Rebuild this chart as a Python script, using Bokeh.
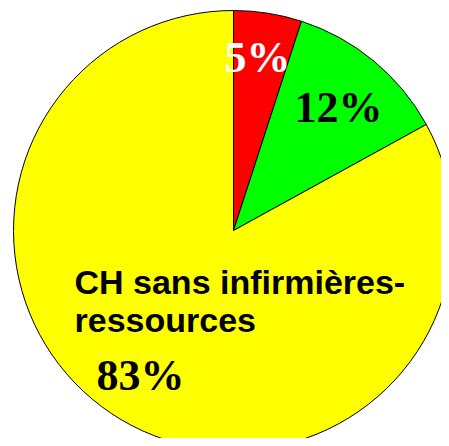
import math
from bokeh.plotting import figure
from bokeh.models import Range1d, ColumnDataSource
from bokeh.core.properties import value
from bokeh.embed import file_html
from bokeh.resources import INLINE

# ---- data ----
pct_labels = ["5%", "12%", "83%"]
shares = [5, 12, 83]
colors = ["#FF0000", "#00FF00", "#FFFF00"]
label_colors = ["white", "black", "black"]
category_lines = ["CH sans infirmières-", "ressources"]

W, H = 441, 438
p = figure(width=W, height=H, output_backend="svg", toolbar_location=None,
           x_range=Range1d(0, W), y_range=Range1d(0, H),
           x_axis_location=None, y_axis_location=None, min_border=0)
p.grid.visible = False
p.outline_line_color = None
p.background_fill_color = "white"

def fy(y):  # figure-pixel y (top-down) -> data y
    return H - y

cx, cy, r = 233, fy(230), 220
total = sum(shares)
starts, ends = [], []
cum = 0
for s in shares:
    a0 = math.pi / 2 - 2 * math.pi * cum / total
    cum += s
    a1 = math.pi / 2 - 2 * math.pi * cum / total
    starts.append(a0)
    ends.append(a1)

src = ColumnDataSource(dict(start=starts, end=ends, color=colors))
p.wedge(x=cx, y=cy, radius=r, start_angle="start", end_angle="end",
        direction="clock", fill_color="color", line_color="black",
        line_width=1, source=src)

# percentage labels (figure-pixel positions, left/baseline)
lx = [224, 294, 96]
ly = [fy(57), fy(107), fy(375)]
p.text(x=lx, y=ly, text=pct_labels, text_color=label_colors,
       text_font=value("Liberation Serif"), text_font_style="bold",
       text_font_size="44px", text_align="left", text_baseline="alphabetic")

p.text(x=[74, 74], y=[fy(281), fy(319)], text=category_lines,
       text_color="black", text_font=value("Liberation Sans"),
       text_font_style="bold", text_font_size="34px",
       text_align="left", text_baseline="alphabetic")

open("out.html", "w").write(file_html(p, INLINE))
